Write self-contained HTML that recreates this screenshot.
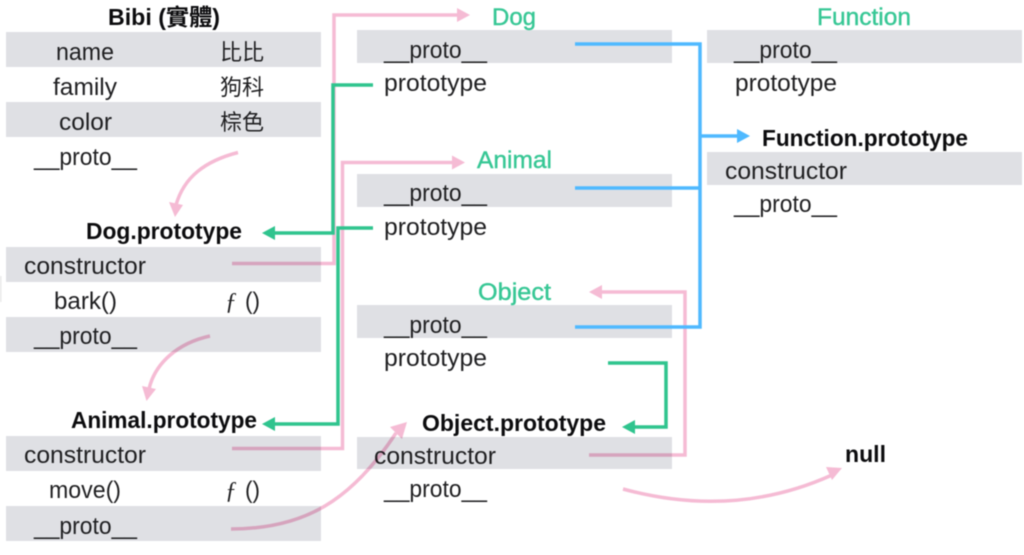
<!DOCTYPE html>
<html>
<head>
<meta charset="utf-8">
<style>
html,body{margin:0;padding:0;background:#fff;width:1024px;height:555px;overflow:hidden}
svg{display:block;filter:blur(.4px)}
text{font-family:"Liberation Sans","Noto Sans CJK TC",sans-serif;font-size:24px;fill:#1f1f21}
.b{font-weight:bold;fill:#0c0c0e;font-size:23px}
.c{font-size:22px}
.g{fill:#37c795;font-weight:normal;stroke:#37c795;stroke-width:.4}
.p{fill:none;stroke:#f5bbd4;stroke-width:3.5}
.e{fill:none;stroke:#2fc48e;stroke-width:3.5}
.l{fill:none;stroke:#4fb9ff;stroke-width:3.5}
</style>
</head>
<body>
<svg width="1024" height="555" viewBox="0 0 1024 555" xmlns="http://www.w3.org/2000/svg">
<rect x="0" y="276" width="1.5" height="26" fill="#e8e8e8"/>
<g fill="#dfe0e4">
<rect x="6" y="32" width="315" height="35"/>
<rect x="6" y="102" width="315" height="35"/>
<rect x="6" y="247" width="315" height="35"/>
<rect x="6" y="317" width="315" height="35"/>
<rect x="6" y="436" width="315" height="35"/>
<rect x="6" y="506" width="315" height="35"/>
<rect x="357" y="30" width="315" height="33"/>
<rect x="357" y="174" width="315" height="33"/>
<rect x="357" y="305" width="315" height="33"/>
<rect x="357" y="437" width="315" height="32"/>
<rect x="707" y="30" width="315" height="33"/>
<rect x="707" y="152" width="315" height="33"/>
</g>

<!-- left labels -->
<text class="b" x="108" y="25" textLength="112" lengthAdjust="spacingAndGlyphs">Bibi (實體)</text>
<text x="56" y="60" textLength="58" lengthAdjust="spacingAndGlyphs">name</text>
<text class="c" x="220" y="60">比比</text>
<text x="53" y="95" textLength="64" lengthAdjust="spacingAndGlyphs">family</text>
<text class="c" x="220" y="95">狗科</text>
<text x="59" y="130" textLength="53" lengthAdjust="spacingAndGlyphs">color</text>
<text class="c" x="220" y="130">棕色</text>
<text x="34" y="165" textLength="103" lengthAdjust="spacingAndGlyphs">__proto__</text>
<text class="b" x="86" y="239" textLength="156" lengthAdjust="spacingAndGlyphs">Dog.prototype</text>
<text x="24" y="274" textLength="122" lengthAdjust="spacingAndGlyphs">constructor</text>
<text x="54" y="309" textLength="63" lengthAdjust="spacingAndGlyphs">bark()</text>
<text x="225" y="309" style="font-family:'Liberation Serif',serif;font-style:italic">ƒ</text>
<text x="245" y="309" textLength="15" lengthAdjust="spacingAndGlyphs">()</text>
<text x="34" y="344" textLength="103" lengthAdjust="spacingAndGlyphs">__proto__</text>
<text class="b" x="71" y="428" textLength="186" lengthAdjust="spacingAndGlyphs">Animal.prototype</text>
<text x="24" y="463" textLength="122" lengthAdjust="spacingAndGlyphs">constructor</text>
<text x="49" y="498" textLength="72" lengthAdjust="spacingAndGlyphs">move()</text>
<text x="225" y="498" style="font-family:'Liberation Serif',serif;font-style:italic">ƒ</text>
<text x="245" y="498" textLength="15" lengthAdjust="spacingAndGlyphs">()</text>
<text x="34" y="534" textLength="103" lengthAdjust="spacingAndGlyphs">__proto__</text>

<!-- middle labels -->
<text class="g" x="492" y="25" textLength="44" lengthAdjust="spacingAndGlyphs">Dog</text>
<text x="384" y="58" textLength="103" lengthAdjust="spacingAndGlyphs">__proto__</text>
<text x="384" y="91" textLength="103" lengthAdjust="spacingAndGlyphs">prototype</text>
<text class="g" x="477" y="168" textLength="75" lengthAdjust="spacingAndGlyphs">Animal</text>
<text x="384" y="201" textLength="103" lengthAdjust="spacingAndGlyphs">__proto__</text>
<text x="384" y="235" textLength="103" lengthAdjust="spacingAndGlyphs">prototype</text>
<text class="g" x="478" y="300" textLength="73" lengthAdjust="spacingAndGlyphs">Object</text>
<text x="384" y="333" textLength="103" lengthAdjust="spacingAndGlyphs">__proto__</text>
<text x="384" y="366" textLength="103" lengthAdjust="spacingAndGlyphs">prototype</text>
<text class="b" x="422" y="431" textLength="184" lengthAdjust="spacingAndGlyphs">Object.prototype</text>
<text x="374" y="464" textLength="122" lengthAdjust="spacingAndGlyphs">constructor</text>
<text x="384" y="497" textLength="103" lengthAdjust="spacingAndGlyphs">__proto__</text>

<!-- right labels -->
<text class="g" x="817" y="25" textLength="94" lengthAdjust="spacingAndGlyphs">Function</text>
<text x="734" y="58" textLength="103" lengthAdjust="spacingAndGlyphs">__proto__</text>
<text x="735" y="91" textLength="102" lengthAdjust="spacingAndGlyphs">prototype</text>
<text class="b" x="762" y="146" textLength="206" lengthAdjust="spacingAndGlyphs">Function.prototype</text>
<text x="725" y="179" textLength="122" lengthAdjust="spacingAndGlyphs">constructor</text>
<text x="734" y="212" textLength="103" lengthAdjust="spacingAndGlyphs">__proto__</text>
<text class="b" x="845" y="462" textLength="41" lengthAdjust="spacingAndGlyphs">null</text>

<!-- pink connectors -->
<g style="mix-blend-mode:multiply">
<path class="p" d="M232 263.500H334V15H458"/>
<polygon points="457,8 470,15 457,22" fill="#f5bbd4"/>
<path class="p" d="M232 448.500H342.500V162.500H453"/>
<polygon points="452,155.500 465,162.500 452,169.500" fill="#f5bbd4"/>
<path class="p" d="M589 455H685V292H601"/>
<polygon points="602,285 589,292 602,299" fill="#f5bbd4"/>
<path class="p" d="M238 152.500C205 161 184 177 176 205"/>
<polygon points="169,202 183,205 175,217" fill="#f5bbd4"/>
<path class="p" d="M210 336C178 343 155 363 149 389"/>
<polygon points="142,386 156,389 146.500,401" fill="#f5bbd4"/>
<path class="p" d="M231 529C305 529 352 500 396 433"/>
<polygon points="390,427 407,422 402,439" fill="#f5bbd4"/>
<path class="p" d="M623 489C700 510 770 503 832 475"/>
<polygon points="826,467 842,468 832,480" fill="#f5bbd4"/>
</g>

<!-- green connectors -->
<path class="e" d="M373 85H333V233H274"/>
<polygon points="275,226 262,233 275,240" fill="#2fc48e"/>
<path class="e" d="M373 228H338V424H274"/>
<polygon points="275,417 262,424 275,431" fill="#2fc48e"/>
<path class="e" d="M608 363H666V427H634"/>
<polygon points="635,420 622,427 635,434" fill="#2fc48e"/>

<!-- blue connectors -->
<path class="l" d="M575 44H700V327H575"/>
<path class="l" d="M575 188H700"/>
<path class="l" d="M700 136H738"/>
<polygon points="737,129 750,136 737,143" fill="#4fb9ff"/>
</svg>
</body>
</html>
